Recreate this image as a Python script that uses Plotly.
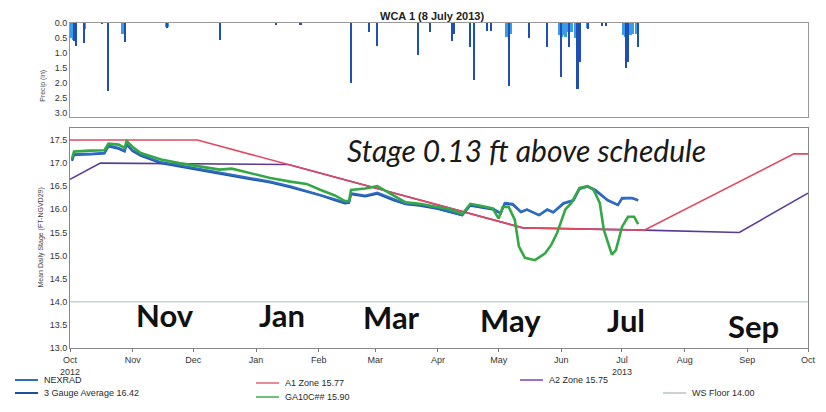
import plotly.graph_objects as go

# ---- precipitation (inches) ----
precip_gauge_dates = [
    "2012-10-03", "2012-10-04", "2012-10-08", "2012-10-17", "2012-10-20", "2012-10-28",
    "2012-11-18", "2012-12-14", "2013-01-11", "2013-01-23", "2013-02-17", "2013-02-26",
    "2013-03-02", "2013-03-22", "2013-03-28", "2013-04-08", "2013-04-09", "2013-04-17",
    "2013-04-19", "2013-04-25", "2013-04-27", "2013-05-06", "2013-05-16", "2013-05-25",
    "2013-06-01", "2013-06-05", "2013-06-09", "2013-06-10", "2013-06-14", "2013-06-21",
    "2013-06-23", "2013-07-03", "2013-07-04", "2013-07-09",
]
precip_gauge = [
    0.60, 0.75, 0.67, 0.03, 2.25, 0.63,
    0.15, 0.57, 0.04, 0.05, 2.00, 0.30,
    0.75, 1.05, 0.30, 0.60, 0.35, 0.80,
    1.90, 0.25, 0.25, 2.10, 0.50, 0.80,
    1.80, 0.80, 2.20, 1.30, 0.20, 0.10,
    0.10, 1.50, 1.30, 0.80,
]
precip_nexrad_dates = [
    "2012-10-02", "2012-10-03", "2012-10-08", "2012-10-27", "2012-10-28", "2012-11-18",
    "2013-04-08", "2013-05-05", "2013-05-06", "2013-05-07", "2013-05-31", "2013-06-01",
    "2013-06-02", "2013-06-03", "2013-06-04", "2013-06-06", "2013-06-08", "2013-06-09",
    "2013-06-14", "2013-07-02", "2013-07-03", "2013-07-05", "2013-07-06", "2013-07-08",
]
precip_nexrad = [
    0.50, 0.55, 0.20, 0.35, 0.30, 0.12,
    0.20, 0.45, 0.40, 0.35, 0.40, 0.45,
    0.40, 0.45, 0.30, 0.30, 0.50, 0.50,
    0.15, 0.40, 0.45, 0.40, 0.35, 0.35,
]

# ---- mean daily stage (ft NGVD29) ----
stage_dates = [
    "2012-10-02", "2012-10-03", "2012-10-11", "2012-10-18", "2012-10-20", "2012-10-25",
    "2012-10-28", "2012-10-29", "2012-11-01", "2012-11-05", "2012-11-15", "2012-11-24",
    "2012-12-04", "2012-12-14", "2012-12-20", "2012-12-29", "2013-01-08", "2013-01-18",
    "2013-01-26", "2013-02-02", "2013-02-09", "2013-02-14", "2013-02-16", "2013-02-17",
    "2013-02-24", "2013-03-02", "2013-03-10", "2013-03-16", "2013-03-23", "2013-04-01",
    "2013-04-07", "2013-04-13", "2013-04-17", "2013-04-22", "2013-04-28", "2013-05-02",
    "2013-05-04", "2013-05-08", "2013-05-12", "2013-05-15", "2013-05-21", "2013-05-25",
    "2013-05-28", "2013-06-02", "2013-06-07", "2013-06-10", "2013-06-14", "2013-06-18",
    "2013-06-24", "2013-06-29", "2013-07-01", "2013-07-06", "2013-07-09",
]
nexrad = [
    17.07, 17.20, 17.20, 17.22, 17.38, 17.33,
    17.27, 17.42, 17.28, 17.18, 17.02, 16.95,
    16.88, 16.80, 16.76, 16.68, 16.60, 16.50,
    16.40, 16.32, 16.22, 16.15, 16.15, 16.35,
    16.30, 16.36, 16.22, 16.12, 16.10, 16.02,
    15.95, 15.88, 16.10, 16.05, 16.02, 15.92,
    16.14, 16.12, 15.95, 16.00, 15.88, 16.00,
    15.94, 16.14, 16.20, 16.46, 16.50, 16.42,
    16.20, 16.10, 16.25, 16.25, 16.20,
]
gauge_avg = [
    17.05, 17.18, 17.19, 17.21, 17.36, 17.31,
    17.25, 17.40, 17.26, 17.16, 17.00, 16.93,
    16.86, 16.78, 16.74, 16.66, 16.58, 16.48,
    16.39, 16.30, 16.20, 16.13, 16.14, 16.33,
    16.28, 16.34, 16.20, 16.11, 16.08, 16.01,
    15.94, 15.87, 16.08, 16.04, 16.00, 15.91,
    16.12, 16.10, 15.94, 15.99, 15.87, 15.99,
    15.93, 16.12, 16.19, 16.44, 16.49, 16.40,
    16.19, 16.09, 16.23, 16.24, 16.19,
]
ga10c_dates = [
    "2012-10-02", "2012-10-03", "2012-10-11", "2012-10-18", "2012-10-20", "2012-10-25",
    "2012-10-28", "2012-10-29", "2012-11-01", "2012-11-05", "2012-11-15", "2012-11-24",
    "2012-12-04", "2012-12-14", "2012-12-20", "2012-12-29", "2013-01-08", "2013-01-18",
    "2013-01-26", "2013-02-02", "2013-02-09", "2013-02-14", "2013-02-16", "2013-02-17",
    "2013-02-24", "2013-03-02", "2013-03-10", "2013-03-16", "2013-03-23", "2013-04-01",
    "2013-04-07", "2013-04-13", "2013-04-17", "2013-04-22", "2013-04-28", "2013-05-01",
    "2013-05-03", "2013-05-06", "2013-05-09", "2013-05-11", "2013-05-14", "2013-05-19",
    "2013-05-24", "2013-05-27", "2013-05-30", "2013-06-03", "2013-06-06", "2013-06-10",
    "2013-06-14", "2013-06-17", "2013-06-20", "2013-06-22", "2013-06-26", "2013-06-28",
    "2013-07-01", "2013-07-04", "2013-07-07", "2013-07-09",
]
ga10c = [
    17.10, 17.25, 17.27, 17.28, 17.42, 17.40,
    17.33, 17.48, 17.35, 17.22, 17.08, 17.00,
    16.93, 16.86, 16.88, 16.78, 16.68, 16.60,
    16.55, 16.42, 16.30, 16.18, 16.18, 16.42,
    16.45, 16.50, 16.30, 16.15, 16.12, 16.05,
    16.00, 15.90, 16.12, 16.08, 16.02, 15.80,
    16.05, 16.05, 15.77, 15.20, 14.95, 14.90,
    15.05, 15.23, 15.50, 16.00, 16.14, 16.46,
    16.50, 16.42, 16.14, 15.56, 15.02, 15.12,
    15.62, 15.84, 15.84, 15.68,
]

# ---- regulation schedule zones ----
a1_dates = ["2012-10-01", "2012-12-03", "2013-05-13", "2013-07-12", "2013-09-24", "2013-10-01"]
a1_zone = [17.50, 17.50, 15.60, 15.55, 17.20, 17.20]
a2_dates = ["2012-10-01", "2012-10-16", "2013-01-17", "2013-05-13", "2013-07-12",
            "2013-08-28", "2013-10-01"]
a2_zone = [16.65, 17.00, 16.97, 15.60, 15.55, 15.50, 16.35]
floor_dates = ["2012-10-01", "2013-10-01"]
ws_floor = [14.00, 14.00]

month_ticks = ["2012-10-01", "2012-11-01", "2012-12-01", "2013-01-01", "2013-02-01",
               "2013-03-01", "2013-04-01", "2013-05-01", "2013-06-01", "2013-07-01",
               "2013-08-01", "2013-09-01", "2013-10-01"]
month_labels = ["Oct<br>2012", "Nov", "Dec", "Jan", "Feb", "Mar", "Apr", "May", "Jun",
                "Jul<br>2013", "Aug", "Sep", "Oct"]

big_month_dates = ["2012-11-17", "2013-01-14", "2013-03-09", "2013-05-07", "2013-07-03", "2013-09-04"]
big_month_text = ["Nov", "Jan", "Mar", "May", "Jul", "Sep"]
big_month_y = [13.72, 13.72, 13.68, 13.6, 13.6, 13.48]

C_NEX = "#2f6cc4"
C_GAUGE = "#1d4f9e"
C_GREEN = "#33a844"
C_RED = "#e2485f"
C_PURPLE = "#5b3a96"
C_FLOOR = "#c4d6cc"

W, H = 826, 412
ML, MR, MT, MB = 70, 18, 23, 64
PH = H - MT - MB


def py(px):
    """pixel row -> paper y"""
    return (H - MB - px) / PH


def px_x(px):
    return (px - ML) / (W - ML - MR)


DAY_MS = 86400000

fig = go.Figure()

fig.add_trace(go.Bar(x=precip_nexrad_dates, y=precip_nexrad, width=1.6 * DAY_MS,
                     marker=dict(color="#3b9be6", line_width=0), xaxis="x2", yaxis="y2",
                     showlegend=False))
fig.add_trace(go.Bar(x=precip_gauge_dates, y=precip_gauge, width=1.0 * DAY_MS,
                     marker=dict(color="#1e4fb4", line_width=0), xaxis="x2", yaxis="y2",
                     showlegend=False))

fig.add_trace(go.Scatter(x=floor_dates, y=ws_floor, mode="lines",
                         line=dict(color=C_FLOOR, width=1.5), showlegend=False))
fig.add_trace(go.Scatter(x=a2_dates, y=a2_zone, mode="lines",
                         line=dict(color=C_PURPLE, width=1.6), showlegend=False))
fig.add_trace(go.Scatter(x=a1_dates, y=a1_zone, mode="lines",
                         line=dict(color=C_RED, width=1.6), showlegend=False))
fig.add_trace(go.Scatter(x=stage_dates, y=gauge_avg, mode="lines",
                         line=dict(color=C_GAUGE, width=2.2), showlegend=False))
fig.add_trace(go.Scatter(x=stage_dates, y=nexrad, mode="lines",
                         line=dict(color=C_NEX, width=2.2), showlegend=False))
fig.add_trace(go.Scatter(x=ga10c_dates, y=ga10c, mode="lines",
                         line=dict(color=C_GREEN, width=2.6), showlegend=False))

axis_font = dict(family="Liberation Sans, Arial", size=9, color="#333")
date_range = ["2012-10-01", "2013-10-01"]

fig.update_layout(
    width=W, height=H,
    margin=dict(l=ML, r=MR, t=MT, b=MB),
    paper_bgcolor="white", plot_bgcolor="white",
    barmode="overlay", bargap=0,
    xaxis=dict(domain=[0, 1], type="date", range=date_range, tickvals=month_ticks,
               ticktext=month_labels, ticks="outside", ticklen=3, tickcolor="#777",
               tickfont=axis_font, showgrid=False, showline=True, linecolor="#888",
               linewidth=1, mirror=True, anchor="y", zeroline=False),
    yaxis=dict(domain=[0, py(128)], range=[13.0, 17.76], tickvals=[13.0 + 0.5 * i for i in range(10)],
               tickformat=".1f", tickfont=axis_font, ticks="", showgrid=False,
               showline=True, linecolor="#888", linewidth=1, mirror=True, zeroline=False),
    xaxis2=dict(domain=[0, 1], type="date", range=date_range, showticklabels=False,
                showgrid=False, showline=True, linecolor="#999", mirror=True,
                anchor="y2", ticks="", zeroline=False),
    yaxis2=dict(domain=[py(117), 1], range=[3.13, 0], tickvals=[0.5 * i for i in range(7)],
                tickformat=".1f", tickfont=axis_font, ticks="", showgrid=False,
                showline=True, linecolor="#999", mirror=True, anchor="x2", zeroline=False),
)

ann = []
ann.append(dict(text="<b>WCA 1 (8 July 2013)</b>", x=px_x(432), y=py(16), xref="paper",
                yref="paper", yanchor="middle", showarrow=False,
                font=dict(family="Liberation Sans, Arial", size=11, color="#222")))
ann.append(dict(text="Precip (in)", x=-0.045, y=py(68), xref="paper", yref="paper",
                textangle=-90, showarrow=False, font=dict(family="Liberation Sans", size=7, color="#444")))
ann.append(dict(text="Mean Daily Stage (FT-NGVD29)", x=-0.048, y=py(238), xref="paper",
                yref="paper", textangle=-90, showarrow=False,
                font=dict(family="Liberation Sans", size=7, color="#444")))
ann.append(dict(text="<i>Stage 0.13 ft above schedule</i>", x="2013-05-15", y=17.28,
                xref="x", yref="y", showarrow=False,
                font=dict(family="Lato, Open Sans", size=30, color="#1a1a1a")))
for d, t, yv in zip(big_month_dates, big_month_text, big_month_y):
    ann.append(dict(text="<b>%s</b>" % t, x=d, y=yv, xref="x", yref="y", showarrow=False,
                    font=dict(family="Lato, Open Sans", size=31, color="#111")))

# legend drawn as swatch + label pairs
legend_items = [
    ("NEXRAD", C_NEX, 15, 380),
    ("3 Gauge Average 16.42", C_GAUGE, 15, 393),
    ("A1 Zone 15.77", "#e88a98", 256, 383),
    ("GA10C## 15.90", "#6cc07a", 256, 397),
    ("A2 Zone 15.75", "#a070c8", 520, 380),
    ("WS Floor 14.00", "#c9d4ce", 663, 393),
]
shapes = []
for label, col, x0, yc in legend_items:
    shapes.append(dict(type="line", xref="paper", yref="paper", x0=px_x(x0), x1=px_x(x0 + 23),
                       y0=py(yc), y1=py(yc), line=dict(color=col, width=2)))
    ann.append(dict(text=label, x=px_x(x0 + 27), y=py(yc), xref="paper", yref="paper",
                    xanchor="left", yanchor="middle", showarrow=False,
                    font=dict(family="Liberation Sans, Arial", size=9, color="#2a2a2a")))

fig.update_layout(annotations=ann, shapes=shapes)
fig.write_html("out.html")
